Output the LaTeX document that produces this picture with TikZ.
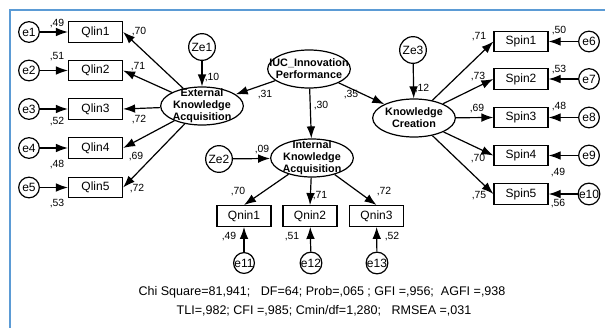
\documentclass[tikz,border=0pt]{standalone}
\usepackage{fontspec}
\setmainfont{Liberation Sans}
\usetikzlibrary{shapes.geometric}
\usetikzlibrary{arrows.meta}
\definecolor{frameblue}{RGB}{91,155,213}
\tikzset{
	obs/.style={draw, rectangle, line width=0.9pt, minimum width=40.5pt, minimum height=15.5pt, inner sep=0pt, font=\fontsize{9}{10}\selectfont},
	latent/.style={draw, ellipse, line width=0.9pt, minimum width=62pt, minimum height=28.5pt, inner sep=-8pt, align=center, font=\bfseries\fontsize{8.1}{9.1}\selectfont},
	err/.style={draw, circle, line width=0.9pt, minimum size=15.5pt, inner sep=0pt, font=\fontsize{9}{10}\selectfont},
	dist/.style={draw, circle, line width=0.9pt, minimum size=20pt, inner sep=0pt, font=\fontsize{9}{10}\selectfont},
	reg/.style={-{Latex[length=9pt,width=6.5pt]}, line width=0.9pt},
	coef/.style={inner sep=0pt, font=\fontsize{7.8}{9}\selectfont},
	fitline/.style={inner sep=0pt, font=\fontsize{9.4}{11}\selectfont}
}

\begin{document}
\begin{tikzpicture}[x=0.75pt, y=-0.75pt]
	\useasboundingbox (0,0) rectangle (605,328);
	\draw[frameblue, line width=1.5pt] (605,10) -- (10,10) -- (10,328);

	% latent variables
	\node[latent] (iuc) at (309,69) {IUC\_Innovation\\Performance};
	\node[latent] (ext) at (202,106) {External\\Knowledge\\Acquisition};
	\node[latent] (int) at (312,158) {Internal\\Knowledge\\Acquisition};
	\node[latent] (kc) at (414,118) {Knowledge\\Creation};

	% disturbances
	\node[dist] (ze1) at (202,47) {Ze1};
	\node[dist] (ze2) at (219,159) {Ze2};
	\node[dist] (ze3) at (413,50) {Ze3};
	\draw[reg] (ze1) -- (ext);
	\draw[reg] (ze2) -- (int);
	\draw[reg] (ze3) -- (kc);
	\node[coef] (cze1) at (212,78) {,10};
	\node[coef] (cze2) at (262,150) {,09};
	\node[coef] (cze3) at (422,89) {,12};

	% structural paths
	\draw[reg] (iuc) -- (ext);
	\draw[reg] (iuc) -- (int);
	\draw[reg] (iuc) -- (kc);
	\node[coef] (cext) at (265,95) {,31};
	\node[coef] (cint) at (321,106) {,30};
	\node[coef] (ckc) at (351,95) {,35};

	% left indicators
	\node[obs] (qlin1) at (95.5,32) {Qlin1};
	\node[obs] (qlin2) at (95.5,70.5) {Qlin2};
	\node[obs] (qlin3) at (95.5,109) {Qlin3};
	\node[obs] (qlin4) at (95.5,148) {Qlin4};
	\node[obs] (qlin5) at (95.5,187.5) {Qlin5};
	\node[err] (e1) at (29,32) {e1};
	\node[err] (e2) at (29,70.5) {e2};
	\node[err] (e3) at (29,109) {e3};
	\node[err] (e4) at (29,148) {e4};
	\node[err] (e5) at (29,187.5) {e5};
	\draw[reg] (e1) -- (qlin1);
	\draw[reg] (e2) -- (qlin2);
	\draw[reg] (e3) -- (qlin3);
	\draw[reg] (e4) -- (qlin4);
	\draw[reg] (e5) -- (qlin5);
	\draw[reg] (ext) -- (qlin1.east);
	\draw[reg] (ext) -- (qlin2.east);
	\draw[reg] (ext) -- (qlin3.east);
	\draw[reg] (ext) -- (qlin4.east);
	\draw[reg] (ext) -- (qlin5.east);
	\node[coef] (r1) at (57,24) {,49};
	\node[coef] (r2) at (57,57) {,51};
	\node[coef] (r3) at (57,122) {,52};
	\node[coef] (r4) at (57,165) {,48};
	\node[coef] (r5) at (57,204) {,53};
	\node[coef] (l1) at (139,32) {,70};
	\node[coef] (l2) at (138,67) {,71};
	\node[coef] (l3) at (139,120) {,72};
	\node[coef] (l4) at (136,157) {,69};
	\node[coef] (l5) at (137,189) {,72};

	% right indicators
	\node[obs] (spin1) at (521,41.5) {Spin1};
	\node[obs] (spin2) at (521,79) {Spin2};
	\node[obs] (spin3) at (521,117.5) {Spin3};
	\node[obs] (spin4) at (521,155.5) {Spin4};
	\node[obs] (spin5) at (521,194) {Spin5};
	\node[err] (e6) at (589,41.5) {e6};
	\node[err] (e7) at (589,79) {e7};
	\node[err] (e8) at (589,117.5) {e8};
	\node[err] (e9) at (589,155.5) {e9};
	\node[err] (e10) at (589,194) {e10};
	\draw[reg] (e6) -- (spin1);
	\draw[reg] (e7) -- (spin2);
	\draw[reg] (e8) -- (spin3);
	\draw[reg] (e9) -- (spin4);
	\draw[reg] (e10) -- (spin5);
	\draw[reg] (kc) -- (spin1.west);
	\draw[reg] (kc) -- (spin2.west);
	\draw[reg] (kc) -- (spin3.west);
	\draw[reg] (kc) -- (spin4.west);
	\draw[reg] (kc) -- (spin5.west);
	\node[coef] (r6) at (559,31) {,50};
	\node[coef] (r7) at (559,70) {,53};
	\node[coef] (r8) at (559,107) {,48};
	\node[coef] (r9) at (558,173) {,49};
	\node[coef] (r10) at (558,204) {,56};
	\node[coef] (l6) at (479,37) {,71};
	\node[coef] (l7) at (478,77) {,73};
	\node[coef] (l8) at (477,109) {,69};
	\node[coef] (l9) at (478,159) {,70};
	\node[coef] (l10) at (479,196) {,75};

	% bottom indicators
	\node[obs] (qnin1) at (244,216) {Qnin1};
	\node[obs] (qnin2) at (310,216) {Qnin2};
	\node[obs] (qnin3) at (376.5,216) {Qnin3};
	\node[err] (e11) at (244,263) {e11};
	\node[err] (e12) at (311,263) {e12};
	\node[err] (e13) at (377,263) {e13};
	\draw[reg] (e11) -- (qnin1);
	\draw[reg] (e12) -- (qnin2);
	\draw[reg] (e13) -- (qnin3);
	\draw[reg] (int) -- (qnin1.north);
	\draw[reg] (int) -- (qnin2.north);
	\draw[reg] (int) -- (qnin3.north);
	\node[coef] (l11) at (238,192) {,70};
	\node[coef] (l12) at (320,196) {,71};
	\node[coef] (l13) at (384,192) {,72};
	\node[coef] (r11) at (229,237) {,49};
	\node[coef] (r12) at (292,237) {,51};
	\node[coef] (r13) at (392,237) {,52};

	% fit indices
	\node[fitline] (fit1) at (322,292) {Chi Square=81,941;\ \ \ DF=64; Prob=,065 ; GFI =,956;\ \ AGFI =,938};
	\node[fitline] (fit2) at (324,311) {TLI=,982; CFI =,985; Cmin/df=1,280;\ \ \ RMSEA =,031};
\end{tikzpicture}
\end{document}
